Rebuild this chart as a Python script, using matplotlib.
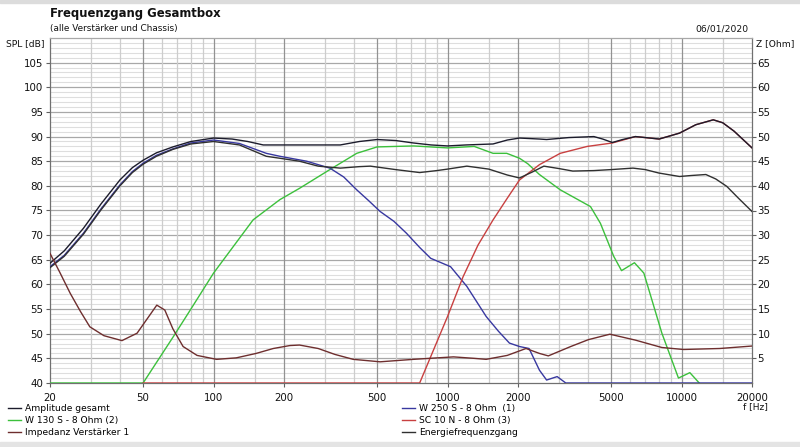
import matplotlib
matplotlib.use("Agg")
import matplotlib.pyplot as plt
from matplotlib.ticker import FixedLocator, NullFormatter
from matplotlib.patches import Rectangle

# ---------------- data ----------------
amp_f = [20, 23, 27.8, 33, 39.8, 45, 50, 57, 67, 80, 100, 120, 140, 163, 192, 250, 348,
         420, 500, 600, 715, 850, 1000, 1200, 1565, 1800, 2030, 2470, 2650, 3300, 4220,
         4600, 5060, 5600, 6350, 7000, 8020, 9800, 11500, 13660, 15000, 16760, 18500, 20000]
amp_db = [64.3, 66.8, 71.4, 76.3, 81.2, 83.7, 85.2, 86.7, 87.9, 89.0, 89.7, 89.5, 89.0, 88.3,
          88.3, 88.3, 88.3, 89.0, 89.4, 89.2, 88.7, 88.3, 88.1, 88.3, 88.5, 89.3, 89.7, 89.5,
          89.4, 89.8, 90.0, 89.5, 88.8, 89.4, 90.0, 89.8, 89.5, 90.7, 92.4, 93.4, 92.8, 91.1,
          89.2, 87.7]

energy_f = [20, 23, 27.8, 33, 39.8, 45, 50, 57, 67, 80, 100, 129, 168, 192, 233, 280, 348,
            420, 468, 600, 760, 900, 1000, 1209, 1500, 1800, 2030, 2300, 2580, 3000, 3430,
            4220, 5000, 6200, 7000, 8000, 9800, 11000, 12700, 14000, 15600, 17500, 20000]
energy_db = [63.4, 65.7, 70.2, 75.1, 80.0, 82.7, 84.4, 86.0, 87.4, 88.5, 89.0, 88.3, 86.0,
             85.6, 85.0, 84.0, 83.6, 83.9, 84.0, 83.3, 82.7, 83.1, 83.4, 84.0, 83.4, 82.2,
             81.6, 82.8, 84.0, 83.5, 83.0, 83.1, 83.3, 83.6, 83.3, 82.6, 81.9, 82.1, 82.3,
             81.4, 79.9, 77.5, 74.8]

w250_f = [20, 23, 27.8, 33, 39.8, 45, 50, 57, 67, 80, 100, 129, 168, 192, 250, 314, 360,
          409, 460, 515, 590, 667, 760, 847, 1030, 1209, 1462, 1650, 1838, 2030, 2230, 2470,
          2650, 2940, 3200, 20000]
w250_db = [63.6, 65.9, 70.4, 75.3, 80.2, 82.9, 84.6, 86.2, 87.5, 88.7, 89.3, 88.6, 86.6,
           86.0, 85.0, 83.6, 81.8, 79.2, 77.0, 74.8, 72.8, 70.4, 67.5, 65.3, 63.6, 59.6, 53.5,
           50.5, 48.1, 47.4, 47.0, 42.6, 40.6, 41.3, 40.0, 40.0]

w130_f = [20, 50, 67.3, 80, 100, 147.6, 192, 233, 314, 409, 500, 715, 1000, 1300, 1565,
          1790, 2030, 2200, 2470, 3030, 4080, 4500, 5130, 5540, 6290, 6900, 8240, 9700,
          10850, 11900]
w130_db = [40.0, 40.0, 49.4, 55.0, 62.3, 73.1, 77.2, 79.5, 83.3, 86.6, 87.9, 88.1, 87.7, 88.0,
           86.6, 86.6, 85.6, 84.5, 82.3, 79.2, 75.8, 72.4, 65.7, 62.8, 64.4, 62.3, 50.1, 41.0,
           42.1, 40.0]

sc10_f = [50, 760, 1000, 1166, 1350, 1565, 1800, 2030, 2470, 3030, 3950, 5060, 6350, 8020,
          9800, 11500, 13660, 15000, 16760, 18500, 20000]
sc10_db = [40.0, 40.0, 53.5, 61.6, 68.0, 73.1, 77.5, 81.2, 84.3, 86.6, 88.0, 88.7, 90.0, 89.5,
           90.7, 92.4, 93.4, 92.8, 91.1, 89.2, 87.7]

imp_f = [20, 22, 24.4, 27, 29.6, 34, 40.6, 47.1, 52, 57.2, 61.9, 67, 74.1, 85, 103, 125,
         152, 180, 212, 233, 280, 330, 395, 515, 715, 1060, 1300, 1462, 1800, 2164, 2470,
         2695, 3360, 4000, 4940, 6350, 8240, 10200, 14550, 20000]
imp_ohm = [26.3, 22.5, 18.2, 14.5, 11.4, 9.6, 8.6, 10.1, 13.0, 15.8, 14.8, 11.0, 7.4, 5.6,
           4.8, 5.1, 6.0, 7.0, 7.6, 7.7, 7.0, 5.8, 4.8, 4.3, 4.8, 5.3, 5.0, 4.8, 5.6, 7.0,
           6.0, 5.5, 7.4, 8.8, 9.9, 8.7, 7.2, 6.8, 7.0, 7.5]

x_ticks = [20, 50, 100, 200, 500, 1000, 2000, 5000, 10000, 20000]
x_minor = [30, 40, 60, 70, 80, 90, 150, 300, 400, 600, 700, 800, 900, 1500, 3000, 4000,
           6000, 7000, 8000, 9000, 15000]
spl_ticks = [40, 45, 50, 55, 60, 65, 70, 75, 80, 85, 90, 95, 100, 105]
z_ticks = [5, 10, 15, 20, 25, 30, 35, 40, 45, 50, 55, 60, 65]

title = "Frequenzgang Gesamtbox"
subtitle = "(alle Verstärker und Chassis)"
date = "06/01/2020"

# ---------------- figure ----------------
plt.rcParams['font.family'] = ['DejaVu Sans']
FS = 6.6
W, H = 800, 447
fig = plt.figure(figsize=(W / 100, H / 100), dpi=100)
fig.patches.append(Rectangle((0, 1 - 3 / H), 1, 3 / H, transform=fig.transFigure,
                             color='#dcdcdc', zorder=0))
fig.patches.append(Rectangle((0, 0), 1, 5 / H, transform=fig.transFigure,
                             color='#e4e4e4', zorder=0))

L, R, T, B = 50, 752, 38, 383
ax = fig.add_axes([L / W, 1 - B / H, (R - L) / W, (B - T) / H])
ax.set_xscale('log')
ax.set_xlim(20, 20000)
ax.set_ylim(40, 110)

# grid
for y in range(41, 110):
    if y % 5:
        ax.axhline(y, color='#dedede', lw=0.8, zorder=0)
for y in range(45, 110, 5):
    ax.axhline(y, color='#a8a8a8', lw=0.9, zorder=0)
for x in x_minor:
    ax.axvline(x, color='#cdcdcd', lw=0.9, zorder=0)
for x in x_ticks[1:-1]:
    ax.axvline(x, color='#929292', lw=0.9, zorder=0)

for s in ax.spines.values():
    s.set_color('#a8a8a8')
    s.set_linewidth(0.9)
ax.spines['bottom'].set_color('#707070')
ax.spines['left'].set_color('#707070')
ax.spines['right'].set_color('#707070')

lw = 1.0
l_amp, = ax.plot(amp_f, amp_db, color='#1c1c2c', lw=lw, label='Amplitude gesamt', zorder=6)
l_w250, = ax.plot(w250_f, w250_db, color='#3838a0', lw=lw, label='W 250 S - 8 Ohm  (1)', zorder=4)
l_w130, = ax.plot(w130_f, w130_db, color='#3cc03c', lw=lw, label='W 130 S - 8 Ohm (2)', zorder=3)
l_sc10, = ax.plot(sc10_f, sc10_db, color='#c84040', lw=lw, label='SC 10 N - 8 Ohm (3)', zorder=4)
l_en, = ax.plot(energy_f, energy_db, color='#303030', lw=lw, label='Energiefrequenzgang', zorder=5)

ax2 = ax.twinx()
ax2.set_ylim(0, 70)
l_imp, = ax2.plot(imp_f, imp_ohm, color='#6e2e2e', lw=lw, label='Impedanz Verstärker 1')
for s in ax2.spines.values():
    s.set_visible(False)

ax.xaxis.set_major_locator(FixedLocator(x_ticks))
ax.xaxis.set_minor_locator(FixedLocator([]))
ax.xaxis.set_minor_formatter(NullFormatter())
ax.set_xticklabels([str(v) for v in x_ticks])
ax.set_yticks(spl_ticks)
ax.set_yticklabels([str(v) for v in spl_ticks])
ax2.set_yticks(z_ticks)
ax2.set_yticklabels([str(v) for v in z_ticks])
ax.tick_params(axis='both', labelsize=FS + 0.8, length=3, width=0.8, color='#606060',
               pad=2, labelcolor='#111111')
ax.tick_params(axis='x', pad=4)
ax2.tick_params(axis='y', labelsize=FS + 0.8, length=3, width=0.8, color='#606060',
                pad=1, labelcolor='#111111')

# texts
fig.text(L / W, 1 - 14 / H, title, fontsize=8.4, fontweight='bold', va='center', ha='left',
         color='#111111')
fig.text(L / W, 1 - 29 / H, subtitle, fontsize=FS - 0.2, va='center', ha='left', color='#111111')
fig.text((R - 3) / W, 1 - 29 / H, date, fontsize=FS, va='center', ha='right', color='#111111')
fig.text((L - 5) / W, 1 - 44 / H, "SPL [dB]", fontsize=FS, va='center', ha='right',
         color='#111111')
fig.text((R + 4) / W, 1 - 44 / H, "Z [Ohm]", fontsize=FS, va='center', ha='left',
         color='#111111')
fig.text((R + 3) / W, 1 - 407 / H, "f [Hz]", fontsize=FS, va='center', ha='center',
         color='#111111')

leg_kw = dict(frameon=False, fontsize=FS, handlelength=1.4, handletextpad=0.5,
              labelspacing=0.35, borderpad=0, borderaxespad=0, loc='upper left')
fig.legend([l_amp, l_w130, l_imp], [h.get_label() for h in (l_amp, l_w130, l_imp)],
           bbox_to_anchor=(8 / W, 1 - 404 / H), **leg_kw)
fig.legend([l_w250, l_sc10, l_en], [h.get_label() for h in (l_w250, l_sc10, l_en)],
           bbox_to_anchor=(402 / W, 1 - 404 / H), **leg_kw)

fig.savefig("out.png", dpi=100, facecolor='white')
